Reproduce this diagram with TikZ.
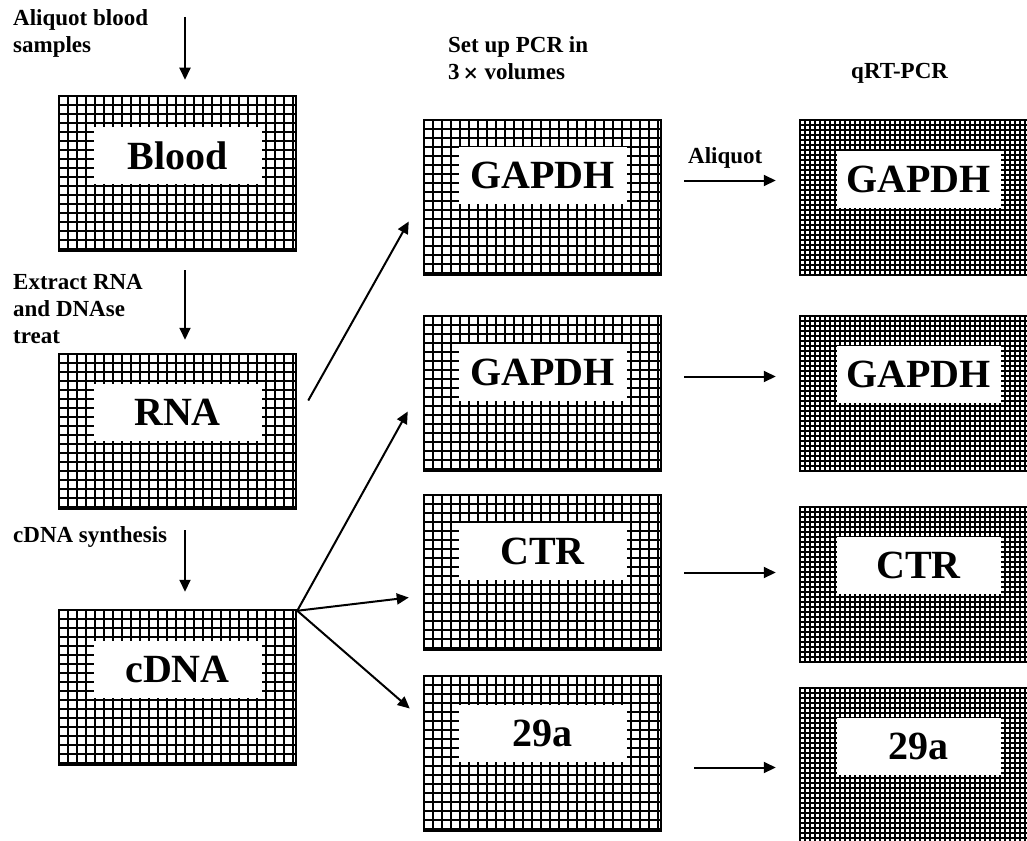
\documentclass[tikz,border=0pt]{standalone}
\usepackage{fontspec}
\setmainfont{Liberation Serif}
\usetikzlibrary{arrows.meta}
\definecolor{flowink}{HTML}{000000}
\definecolor{flowpaper}{HTML}{FFFFFF}
\tikzset{
  mesh step/.store in=\meshstep, mesh step=9pt,
  mesh line/.store in=\meshline, mesh line=2pt,
  flow box/.style={
    rectangle, draw=flowink, line width=2.5pt,
    minimum width=237pt, minimum height=155pt, inner sep=0pt,
    path picture={
      \foreach \k in {0,...,54}{
        \draw[flowink, line width=\meshline]
          ([xshift=\k*\meshstep]path picture bounding box.north west) --
          ([xshift=\k*\meshstep]path picture bounding box.south west);
        \draw[flowink, line width=\meshline]
          ([yshift=-\k*\meshstep]path picture bounding box.north west) --
          ([yshift=-\k*\meshstep]path picture bounding box.north east);
      }
    }
  },
  flow dense box/.style={flow box, mesh step=5pt, mesh line=2pt},
  flow tag/.style={
    rectangle, fill=flowpaper, text=flowink,
    minimum width=168pt, minimum height=57pt, inner sep=0pt,
    font=\fontsize{40}{44}\selectfont\bfseries
  },
  flow note/.style={
    text=flowink, font=\fontsize{23}{27}\selectfont\bfseries,
    align=left, anchor=north west, inner sep=0pt
  },
  flow arrow/.style={
    draw=flowink, line width=2pt,
    -{Triangle[length=12pt,width=11pt]}
  }
}

\begin{document}
\begin{tikzpicture}[x=1pt,y=-1pt]
  \useasboundingbox (0,0) rectangle (1027,840);
  \clip (0,0) rectangle (1027,840);

  \node[flow box] (blood) at (177.5,173.5) {};
  \node[flow box] (rna) at (177.5,431.5) {};
  \node[flow box] (cdna) at (177.5,687.5) {};
  \node[flow tag] (blood-tag) at ([yshift=18pt]blood.center) {Blood};
  \node[flow tag] (rna-tag) at ([yshift=19pt]rna.center) {RNA};
  \node[flow tag] (cdna-tag) at ([yshift=18pt]cdna.center) {cDNA};

  \node[flow box] (gapdhA) at (542.5,197.5) {};
  \node[flow box] (gapdhB) at (542.5,393.5) {};
  \node[flow box] (ctr) at (542.5,572.5) {};
  \node[flow box] (mira) at (542.5,753.5) {};
  \node[flow tag] (gapdhA-tag) at ([yshift=22pt]gapdhA.center) {GAPDH};
  \node[flow tag] (gapdhB-tag) at ([yshift=21pt]gapdhB.center) {GAPDH};
  \node[flow tag] (ctr-tag) at ([yshift=21pt]ctr.center) {CTR};
  \node[flow tag] (mira-tag) at ([yshift=20pt]mira.center) {29a};

  \node[flow dense box] (qgapdhA) at (918.5,197.5) {};
  \node[flow dense box] (qgapdhB) at (918.5,393.5) {};
  \node[flow dense box] (qctr) at (918.5,584.5) {};
  \node[flow dense box] (qmira) at (918.5,765.5) {};
  \node[flow tag,minimum width=164pt] (qgapdhA-tag) at ([yshift=18pt]qgapdhA.center) {GAPDH};
  \node[flow tag,minimum width=164pt] (qgapdhB-tag) at ([yshift=19pt]qgapdhB.center) {GAPDH};
  \node[flow tag,minimum width=164pt] (qctr-tag) at ([yshift=19pt]qctr.center) {CTR};
  \node[flow tag,minimum width=164pt] (qmira-tag) at ([yshift=19pt]qmira.center) {29a};

  \node[flow note] (aliquot-note) at (13,9) {Aliquot blood\\samples};
  \node[flow note] (extract-note) at (13,274) {Extract RNA\\and DNAse\\treat};
  \node[flow note] (synth-note) at (13,526) {cDNA synthesis};
  \node[flow note] (pcr-note) at (448,36) {Set up PCR in\\3{\fontspec{DejaVu Serif}\fontsize{19}{27}\selectfont\bfseries\,×} volumes};
  \node[flow note] (qpcr-note) at (851,63) {qRT-PCR};
  \node[flow note] (split-note) at (688,147) {Aliquot};

  \coordinate (blood-in) at (185,17);
  \coordinate (rna-in) at (185,270);
  \coordinate (cdna-in) at (185,530);
  \draw[flow arrow,shorten >=15pt] (blood-in) -- (blood-in |- blood.north);
  \draw[flow arrow,shorten >=13pt] (rna-in) -- (rna-in |- rna.north);
  \draw[flow arrow,shorten >=17pt] (cdna-in) -- (cdna-in |- cdna.north);

  \draw[flow arrow] ([xshift=11pt,yshift=31pt]rna.east) -- ([xshift=-14pt,yshift=-24pt]gapdhA.west);
  \draw[flow arrow] ([yshift=-2pt]cdna.north east) -- ([xshift=-15pt,yshift=-18pt]gapdhB.west);
  \draw[flow arrow] ([yshift=-2pt]cdna.north east) -- ([xshift=-14pt,yshift=-25pt]ctr.west);
  \draw[flow arrow] ([yshift=-2pt]cdna.north east) -- ([xshift=-13pt,yshift=45pt]mira.west);

  \coordinate (split-a) at ([xshift=22pt,yshift=17pt]gapdhA.east);
  \coordinate (split-b) at ([xshift=22pt,yshift=17pt]gapdhB.east);
  \coordinate (split-c) at ([xshift=22pt]ctr.east);
  \coordinate (split-d) at ([xshift=32pt,yshift=-14pt]mira.east);
  \draw[flow arrow,shorten >=23pt] (split-a) -- (split-a -| qgapdhA.west);
  \draw[flow arrow,shorten >=23pt] (split-b) -- (split-b -| qgapdhB.west);
  \draw[flow arrow,shorten >=23pt] (split-c) -- (split-c -| qctr.west);
  \draw[flow arrow,shorten >=23pt] (split-d) -- (split-d -| qmira.west);
\end{tikzpicture}
\end{document}
